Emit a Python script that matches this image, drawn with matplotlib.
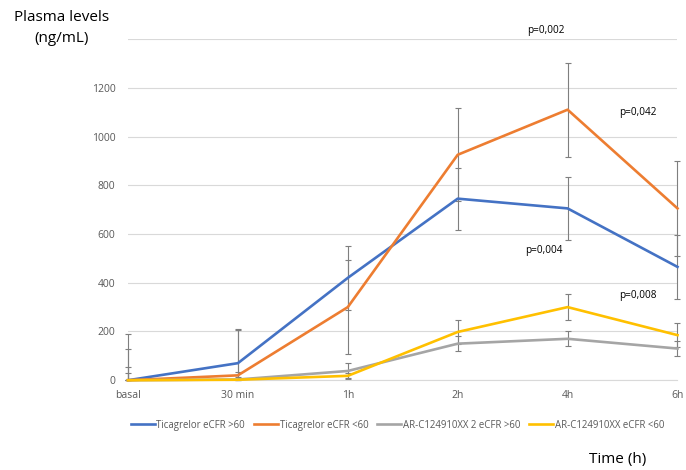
import matplotlib.pyplot as plt
from matplotlib.lines import Line2D
import numpy as np

# data
time_labels = ['basal', '30 min', '1h', '2h', '4h', '6h']
series_names = ['Ticagrelor eCFR >60', 'Ticagrelor eCFR <60',
                'AR-C124910XX 2 eCFR >60', 'AR-C124910XX eCFR <60']
tica_gt60 = [0, 70, 420, 745, 705, 465]
tica_lt60 = [0, 20, 300, 925, 1110, 705]
arc_gt60 = [0, 3, 38, 150, 170, 130]
arc_lt60 = [0, 2, 18, 198, 300, 185]
tica_gt60_err = [127, 140, 130, 127, 128, 130]
tica_lt60_err = [191, 185, 192, 190, 193, 195]
arc_gt60_err = [53, 30, 32, 32, 31, 32]
arc_lt60_err = [30, 10, 10, 50, 52, 50]
p_labels = ['p=0,002', 'p=0,042', 'p=0,004', 'p=0,008']

colors = ['#4472C4', '#ED7D31', '#A5A5A5', '#FFC000']
values = [tica_gt60, tica_lt60, arc_gt60, arc_lt60]
errors = [tica_gt60_err, tica_lt60_err, arc_gt60_err, arc_lt60_err]

plt.rcParams['font.family'] = ['Open Sans', 'DejaVu Sans']

fig = plt.figure(figsize=(6.86, 4.70), dpi=100)
ax = fig.add_axes([0.1866, 0.191, 0.801, 0.726])

x = np.arange(len(time_labels))
handles = []
for name, vals, err, col in zip(series_names, values, errors, colors):
    vals = np.array(vals)
    err = np.array(err)
    # lower part stops at the axis, as in the reference
    lower = np.minimum(err, vals)
    ax.errorbar(x, vals, yerr=[lower, err], fmt='none', ecolor='#7F7F7F',
                elinewidth=0.8, capsize=2.5, capthick=0.8, zorder=2,
                clip_on=False)
    ax.plot(x, vals, color=col, lw=1.9, zorder=3, clip_on=False)
    handles.append(Line2D([], [], color=col, lw=1.9, label=name))

ax.set_xlim(0, 5)
ax.set_ylim(0, 1400)
ax.set_yticks([0, 200, 400, 600, 800, 1000, 1200, 1400])
ax.set_yticklabels(['0', '200', '400', '600', '800', '1000', '1200', ''])
ax.set_xticks(x)
ax.set_xticklabels(time_labels)
ax.tick_params(length=0, labelsize=7.5, labelcolor='#595959', pad=7)
ax.tick_params(axis='y', pad=9)
ax.grid(axis='y', color='#D9D9D9', lw=0.8)
ax.set_axisbelow(True)
for s in ['top', 'right', 'left']:
    ax.spines[s].set_visible(False)
ax.spines['bottom'].set_color('#D9D9D9')

# p value annotations
p_pos = [(3.80, 1433), (4.64, 1100), (3.78, 534), (4.64, 349)]
for txt, (px, py) in zip(p_labels, p_pos):
    ax.text(px, py, txt, fontsize=7.2, ha='center', va='center',
            clip_on=False)

fig.text(0.09, 0.94, 'Plasma levels\n(ng/mL)', fontsize=11,
         ha='center', va='center', linespacing=1.5)
fig.text(0.9, 0.022, 'Time (h)', fontsize=11, ha='center', va='center')

ax.legend(handles=handles, loc='upper center', bbox_to_anchor=(0.49, -0.09),
          ncol=4, frameon=False, fontsize=6.9, handlelength=2.5,
          columnspacing=0.9, handletextpad=0.2, labelcolor='#595959')

fig.savefig('out.png', dpi=100)
